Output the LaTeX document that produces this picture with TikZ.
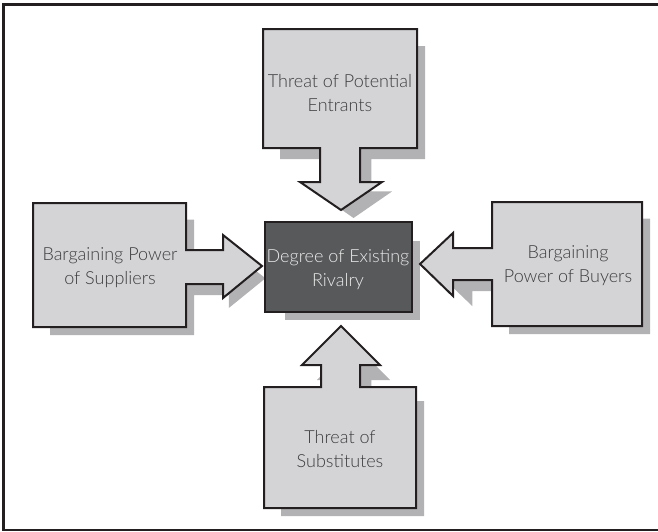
\documentclass[tikz,border=0pt]{standalone}
\usepackage{fontspec}
\setmainfont{Lato Light}
\definecolor{boxfill}{HTML}{D4D4D6}
\definecolor{shadowgray}{HTML}{B2B2B4}
\definecolor{darkbox}{HTML}{58595B}
\definecolor{edgecol}{HTML}{231F20}
\definecolor{txtcol}{HTML}{3C3C3E}
\tikzset{
  shapebox/.style={fill=boxfill,draw=edgecol,line width=1.5pt,line join=miter},
  shadowbox/.style={fill=shadowgray,draw=none},
  label/.style={align=center,text=txtcol,font=\fontsize{13.5}{18}\selectfont,inner sep=0pt},
  darklabel/.style={label,text=white!92!black}
}
\begin{document}
\begin{tikzpicture}[x=0.75pt,y=-0.75pt]
\useasboundingbox (0,0) rectangle (658,532);
% outer frame
\draw[edgecol,line width=1.6pt] (658,4.5) -- (3.5,4.5) -- (3.5,530) -- (658,530);

% ---- shadows ----
% top
\begin{scope}[shift={(425,218)},xscale=0.94,yscale=0.95,shift={(-417,-210)}]
\fill[shadowbox] (263,29) -- (417,29) -- (417,148) -- (360,148) -- (360,182) -- (382,182) -- (341,210) -- (300,182) -- (320,182) -- (320,148) -- (263,148) -- cycle;
\end{scope}
% left
\begin{scope}[shift={(194,335)},xscale=0.94,yscale=0.93,shift={(-186,-327)}]
\fill[shadowbox] (33,203) -- (186,203) -- (186,250) -- (223,250) -- (223,235) -- (262,266) -- (223,298) -- (223,284) -- (186,284) -- (186,327) -- (33,327) -- cycle;
\end{scope}
% right
\begin{scope}[shift={(650,334)},xscale=0.94,yscale=0.93,shift={(-642,-326)}]
\fill[shadowbox] (642,202) -- (492,202) -- (492,248) -- (453,248) -- (453,233) -- (420,264) -- (453,296) -- (453,280) -- (492,280) -- (492,326) -- (642,326) -- cycle;
\end{scope}
% bottom
\begin{scope}[shift={(424,516)},xscale=0.94,yscale=0.95,shift={(-416,-508)}]
\fill[shadowbox] (264,387) -- (321,387) -- (321,365) -- (302,365) -- (341,326) -- (380,365) -- (360,365) -- (360,387) -- (416,387) -- (416,508) -- (264,508) -- cycle;
\end{scope}
% center
\begin{scope}[shift={(420,320)},xscale=0.92,yscale=0.88,shift={(-412,-312)}]
\fill[shadowbox] (265,222) rectangle (412,312);
\end{scope}

% ---- shapes ----
\draw[shapebox] (263,29) -- (417,29) -- (417,148) -- (360,148) -- (360,182) -- (382,182) -- (341,210) -- (300,182) -- (320,182) -- (320,148) -- (263,148) -- cycle;
\draw[shapebox] (33,203) -- (186,203) -- (186,250) -- (223,250) -- (223,235) -- (262,266) -- (223,298) -- (223,284) -- (186,284) -- (186,327) -- (33,327) -- cycle;
\draw[shapebox] (642,202) -- (492,202) -- (492,248) -- (453,248) -- (453,233) -- (420,264) -- (453,296) -- (453,280) -- (492,280) -- (492,326) -- (642,326) -- cycle;
\draw[shapebox] (264,387) -- (321,387) -- (321,365) -- (302,365) -- (341,326) -- (380,365) -- (360,365) -- (360,387) -- (416,387) -- (416,508) -- (264,508) -- cycle;
\draw[shapebox,fill=darkbox] (265,222) rectangle (412,312);

% ---- labels ----
\node[label] (entrants) at (340,93) {Threat of Potential\\Entrants};
\node[label] (suppliers) at (110,268) {Bargaining Power\\of Suppliers};
\node[label] (buyers) at (568,266) {Bargaining\\Power of Buyers};
\node[label] (substitutes) at (340,449) {Threat of\\Substitutes};
\node[darklabel] (rivalry) at (338,270) {Degree of Existing\\Rivalry};
\end{tikzpicture}
\end{document}
